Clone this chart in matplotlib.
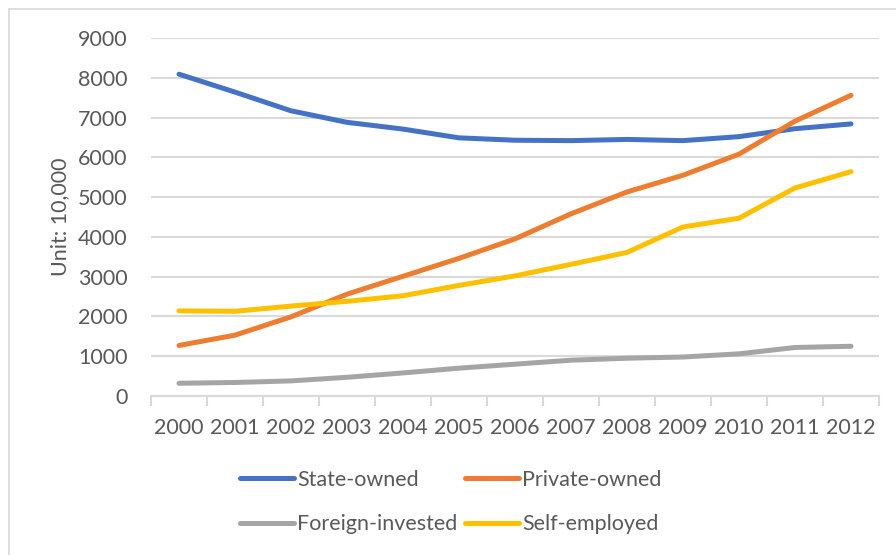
import numpy as np
import matplotlib
matplotlib.use("Agg")
import matplotlib.pyplot as plt
from matplotlib.lines import Line2D

plt.rcParams['font.family'] = ['Lato', 'DejaVu Sans']

years = ['2000', '2001', '2002', '2003', '2004', '2005', '2006',
         '2007', '2008', '2009', '2010', '2011', '2012']

# employment by ownership type, unit: 10,000 persons
state_owned = [8090, 7640, 7170, 6880, 6710, 6490, 6430,
               6420, 6450, 6420, 6520, 6720, 6840]
private_owned = [1270, 1530, 1990, 2560, 3010, 3460, 3950,
                 4580, 5130, 5550, 6080, 6910, 7560]
foreign_invested = [320, 340, 380, 470, 580, 700, 800,
                    900, 950, 980, 1060, 1220, 1250]
self_employed = [2140, 2130, 2260, 2380, 2520, 2780, 3020,
                 3310, 3610, 4250, 4470, 5230, 5640]

series = [
    ('State-owned', state_owned, '#4472C4'),
    ('Private-owned', private_owned, '#ED7D31'),
    ('Foreign-invested', foreign_invested, '#A5A5A5'),
    ('Self-employed', self_employed, '#FFC000'),
]

text_color = '#595959'
grid_color = '#D9D9D9'
fs = 15.5

fig = plt.figure(figsize=(8.96, 5.55), dpi=100)
ax = fig.add_axes([151 / 896, 1 - 396 / 555, 728 / 896, 358 / 555])

x = np.arange(len(years))
lines = []
for name, vals, col in series:
    ln, = ax.plot(x, vals, color=col, lw=3.6, solid_capstyle='round',
                  solid_joinstyle='round', label=name)
    lines.append(ln)

ax.set_xlim(-0.5, len(years) - 0.5)
ax.set_ylim(0, 9000)
ax.set_yticks(np.arange(0, 9001, 1000))
ax.yaxis.grid(True, color=grid_color, lw=1.5)
ax.set_axisbelow(True)

ax.set_xticks(x)
ax.set_xticklabels(years)
ax.set_xticks(np.arange(-0.5, len(years)), minor=True)
ax.tick_params(axis='x', which='major', length=0, pad=16,
               labelsize=fs, labelcolor=text_color)
ax.tick_params(axis='x', which='minor', length=7, width=1.5, color=grid_color)
ax.tick_params(axis='y', length=0, pad=17, labelsize=fs, labelcolor=text_color)

for side in ['top', 'right', 'left']:
    ax.spines[side].set_visible(False)
ax.spines['bottom'].set_color(grid_color)
ax.spines['bottom'].set_linewidth(1.5)

fig.text(60 / 896, 1 - 217 / 555, 'Unit: 10,000', rotation=90,
         ha='center', va='center', fontsize=fs, color=text_color)

# legend fills column-wise, so order handles to read row by row
order = [0, 2, 1, 3]
leg = fig.legend([lines[i] for i in order], [series[i][0] for i in order],
                 loc='center', bbox_to_anchor=(451 / 896, 1 - 502 / 555),
                 ncol=2, frameon=False, fontsize=fs, handlelength=2.5,
                 handletextpad=0.15, columnspacing=0.35, labelspacing=1.15)
for t in leg.get_texts():
    t.set_color(text_color)

# chart area border
fig.add_artist(Line2D([9 / 896, 9 / 896], [0, 1 - 9 / 555],
                      color=grid_color, lw=1.2))
fig.add_artist(Line2D([9 / 896, 1], [1 - 9 / 555, 1 - 9 / 555],
                      color=grid_color, lw=1.2))

fig.savefig('out.png', dpi=100, facecolor='white')
